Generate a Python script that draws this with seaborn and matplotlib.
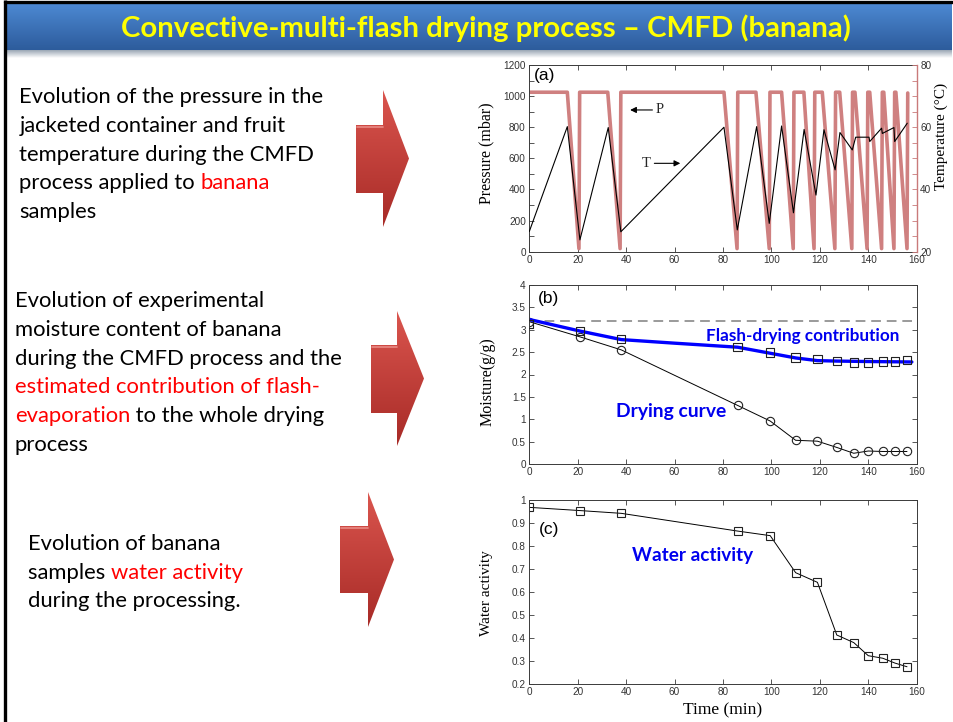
import numpy as np
import pandas as pd
import matplotlib
matplotlib.use("Agg")
import matplotlib.pyplot as plt
import seaborn as sns
from matplotlib.patches import Polygon
from matplotlib.ticker import MultipleLocator, FuncFormatter

# ---------------- data ----------------
p_time = [0, 15.7, 20.5, 20.8, 32.4, 37.5, 37.8, 80.4, 85.8, 86.1, 93.6, 99.1, 99.4,
          104.2, 109.0, 109.3, 113.4, 117.6, 117.9, 121.0, 126.2, 126.5, 128.2, 133.2,
          133.5, 134.5, 139.5, 139.8, 140.6, 145.5, 145.8, 146.4, 150.6, 150.9, 151.4,
          156.0, 156.3]
p_mbar = [1025, 1025, 20, 1025, 1025, 20, 1025, 1025, 20, 1025, 1025, 20, 1025,
          1025, 20, 1025, 1025, 20, 1025, 1025, 20, 1025, 1025, 20,
          1025, 1025, 20, 1025, 1025, 20, 1025, 1025, 20, 1025, 1025,
          20, 1020]

t_time = [0, 15.7, 20.9, 32.6, 37.8, 80.4, 85.9, 93.9, 99.1, 104.2, 109.1, 113.5,
          118.4, 121.7, 126.3, 128.3, 133.4, 134.8, 140.3, 140.6, 145.5, 145.8,
          150.6, 150.9, 156.1]
t_degc = [26.5, 60.2, 23.8, 59.9, 26.4, 60.0, 27.0, 60.2, 29.1, 60.4, 32.5, 59.3,
          38.2, 59.2, 46.3, 58.3, 52.7, 56.8, 56.8, 55.4, 59.7, 58.0,
          59.9, 55.4, 61.3]

sample_time = [0, 21, 38, 86, 99.5, 110, 119, 127, 134, 140, 146, 151, 156]
moisture_drying = [3.18, 2.84, 2.55, 1.31, 0.96, 0.53, 0.51, 0.37, 0.24, 0.29, 0.28, 0.28, 0.28]
moisture_flash = [3.13, 2.97, 2.79, 2.61, 2.49, 2.38, 2.34, 2.30, 2.27, 2.27, 2.29, 2.29, 2.32]
fit_time = [0, 21, 38, 60, 86, 99, 110, 119, 127, 140, 158]
fit_moisture = [3.23, 2.97, 2.78, 2.70, 2.61, 2.48, 2.37, 2.31, 2.30, 2.29, 2.28]
initial_moisture = 3.2
water_activity = [0.968, 0.954, 0.942, 0.865, 0.845, 0.684, 0.642, 0.413, 0.380,
                  0.323, 0.312, 0.291, 0.275]

title = "Convective-multi-flash drying process \u2013 CMFD (banana)"
block1 = [[("Evolution of the pressure in the", "k")],
          [("jacketed container and fruit", "k")],
          [("temperature during the CMFD", "k")],
          [("process applied to ", "k"), ("banana", "r")],
          [("samples", "k")]]
block2 = [[("Evolution of experimental", "k")],
          [("moisture content of banana", "k")],
          [("during the CMFD process and the", "k")],
          [("estimated contribution of flash-", "r")],
          [("evaporation", "r"), (" to the whole drying", "k")],
          [("process", "k")]]
block3 = [[("Evolution of banana", "k")],
          [("samples ", "k"), ("water activity", "r")],
          [("during the processing.", "k")]]

# ---------------- style ----------------
sns.set_theme(style="white")
plt.rcParams["font.family"] = ["Liberation Sans", "DejaVu Sans"]
W, H = 954, 722
fig = plt.figure(figsize=(W / 100, H / 100), dpi=100)
fig.patch.set_facecolor("white")
renderer = fig.canvas.get_renderer()

# background layer in pixel coordinates
bg = fig.add_axes([0, 0, 1, 1], zorder=-5)
bg.set_axis_off()

def grad(top, bot, n=64):
    top = np.array(matplotlib.colors.to_rgb(top))
    bot = np.array(matplotlib.colors.to_rgb(bot))
    f = np.linspace(0, 1, n)[:, None]
    return (top * (1 - f) + bot * f)[:, None, :]

# title banner
bg.imshow(grad("#4C88D2", "#2D5C9C"), extent=(7, 952, 50, 4), aspect="auto", zorder=1)
bg.imshow(grad("#9aa6b4", "#ffffff"), extent=(7, 952, 58, 50), aspect="auto", zorder=1)
# slide border
bg.plot([5, 5], [0, 722], color="black", lw=2.4, zorder=3, solid_capstyle="butt")
bg.plot([5, 952], [1.5, 1.5], color="black", lw=2.4, zorder=3)

# red block arrows
arrows = [(356, 383, 409, 125, 193, 90, 227),
          (371, 397, 424, 345, 413, 311, 446),
          (340, 368, 394, 526, 593, 492, 627)]
for x0, xh, xt, sy0, sy1, hy0, hy1 in arrows:
    verts = [(x0, sy0), (xh, sy0), (xh, hy0), (xt, (hy0 + hy1) / 2), (xh, hy1),
             (xh, sy1), (x0, sy1)]
    poly = Polygon(verts, closed=True, facecolor="none", edgecolor="none")
    bg.add_patch(poly)
    im = bg.imshow(grad("#DA554E", "#A82B27"), extent=(x0, xt, hy1, hy0),
                   aspect="auto", zorder=2)
    im.set_clip_path(poly)
    # light bevel on shaft top
    bg.plot([x0 + 1, xh], [sy0 + 2, sy0 + 2], color="#E98A84", lw=1.2, zorder=3)

bg.set_xlim(0, W)
bg.set_ylim(H, 0)

px = bg.transData

def fit_size(s, target, **kw):
    t = fig.text(0, 0, s, fontsize=10, **kw)
    w = t.get_window_extent(renderer=renderer).width
    t.remove()
    return 10 * target / w

# title
tsize = fit_size(title, 733, family="Lato", weight="bold")
fig.text(486, 37, title, transform=px, ha="center", va="baseline", fontsize=tsize,
         family="Lato", weight="bold", color="#FFFF00")

# body text
bsize = fit_size("Evolution of the pressure in the", 305, family="Lato")
colors = {"k": "black", "r": "#FF0000"}

def write_block(x, y0, lines, step=28.7):
    for i, segs in enumerate(lines):
        y = y0 + i * step
        prev = None
        for s, c in segs:
            if prev is None:
                prev = fig.text(x, y, s, transform=px, ha="left", va="baseline",
                                fontsize=bsize, family="Lato", color=colors[c])
            else:
                prev = fig.text(0, 0, s, ha="left", va="baseline", fontsize=bsize,
                                family="Lato", color=colors[c],
                                transform=matplotlib.transforms.offset_copy(
                                    prev.get_transform(), fig=fig, x=0, y=0))
                # position right after previous fragment
                bb = fig.texts[-2].get_window_extent(renderer=renderer)
                prev.set_transform(matplotlib.transforms.IdentityTransform())
                prev.set_position((bb.x1, H - y))

write_block(19.3, 103.3, block1)
write_block(15, 307.3, block2)
write_block(28.3, 550, block3)

# ---------------- plot axes ----------------
def pix_axes(x0, y0, x1, y1):
    return fig.add_axes([x0 / W, 1 - y1 / H, (x1 - x0) / W, (y1 - y0) / H])

tick_col = "#333333"
spine_col = "#3a3a3a"
serif = ["Liberation Serif", "DejaVu Serif"]

def style(ax, right=True):
    ax.set_facecolor("white")
    for sp in ax.spines.values():
        sp.set_color(spine_col)
        sp.set_linewidth(0.7)
        sp.set_visible(True)
    ax.tick_params(which="both", direction="in", length=3.5, width=0.6, colors=spine_col,
                   labelcolor=tick_col, labelsize=7.2, top=True, right=right,
                   bottom=True, left=True, pad=2.5)
    ax.grid(False)

fmt = FuncFormatter(lambda v, p: f"{v:g}")

# (a) pressure / temperature
axa = pix_axes(529.3, 65, 916.7, 251.7)
style(axa, right=False)
p_df = pd.DataFrame({"time": p_time, "pressure": p_mbar})
sns.lineplot(data=p_df, x="time", y="pressure", ax=axa, color="#CF8080", lw=2.6,
             sort=False, estimator=None)
axa.set_xlim(0, 160)
axa.set_ylim(0, 1200)
axa.xaxis.set_major_locator(MultipleLocator(20))
axa.yaxis.set_major_locator(MultipleLocator(200))
axa.yaxis.set_minor_locator(MultipleLocator(100))
axa.set_xlabel("")
axa.set_ylabel("Pressure (mbar)", family=serif, fontsize=11.5, color="black", va="center")
axa.yaxis.set_label_coords(-0.11, 0.53)
axa.text(0.012, 0.985, "(a)", transform=axa.transAxes, ha="left", va="top",
         fontsize=12.5, color="black")

axt = axa.twinx()
t_df = pd.DataFrame({"time": t_time, "temperature": t_degc})
sns.lineplot(data=t_df, x="time", y="temperature", ax=axt, color="black", lw=0.8,
             sort=False, estimator=None)
axt.set_ylim(20, 80)
axt.set_xlim(0, 160)
axt.yaxis.set_major_locator(MultipleLocator(20))
axt.yaxis.set_minor_locator(MultipleLocator(5))
for sp in axt.spines.values():
    sp.set_visible(False)
axt.spines["right"].set_visible(True)
axt.spines["right"].set_color("#C97A7A")
axt.spines["right"].set_linewidth(1.0)
axt.tick_params(which="both", direction="in", length=3.5, width=0.6, colors="#C97A7A",
                labelcolor=tick_col, labelsize=7.2, right=True, left=False, pad=2.5)
axt.grid(False)
axt.set_xlabel("")
axt.set_ylabel("Temperature (\u00b0C)", family=serif, fontsize=11, color="black",
               va="center", rotation=90)
axt.yaxis.set_label_coords(1.064, 0.616)

axa.annotate("", xy=(40.5, 911), xytext=(52, 911),
             arrowprops=dict(arrowstyle="-|>", color="black", lw=0.8, mutation_scale=9))
axa.text(52.3, 911, "P", family=serif, fontsize=10.5, va="center", ha="left")
axa.annotate("", xy=(63.5, 568), xytext=(50.5, 568),
             arrowprops=dict(arrowstyle="-|>", color="black", lw=0.8, mutation_scale=9))
axa.text(50.3, 568, "T", family=serif, fontsize=10.5, va="center", ha="right")

# (b) moisture
axb = pix_axes(529.3, 285, 916.7, 464)
style(axb)
axb.plot([0, 158], [initial_moisture, initial_moisture], ls=(0, (5, 3)),
         color="#9a9a9a", lw=1.4)
m_df = pd.DataFrame({"time": sample_time, "drying": moisture_drying,
                     "flash": moisture_flash})
fit_df = pd.DataFrame({"time": fit_time, "fit": fit_moisture})
sns.lineplot(data=m_df, x="time", y="drying", ax=axb, color="black", lw=0.7,
             marker="o", markersize=6, markerfacecolor="none", markeredgecolor="#222",
             markeredgewidth=0.8, estimator=None)
sns.lineplot(data=fit_df, x="time", y="fit", ax=axb, color="#0000FF", lw=2.4,
             estimator=None)
sns.scatterplot(data=m_df, x="time", y="flash", ax=axb, marker="s", s=36,
                facecolor="none", edgecolor="#222", linewidth=0.8, zorder=4)
axb.set_xlim(0, 160)
axb.set_ylim(0, 4)
axb.xaxis.set_major_locator(MultipleLocator(20))
axb.yaxis.set_major_locator(MultipleLocator(0.5))
axb.yaxis.set_major_formatter(fmt)
axb.set_xlabel("")
axb.set_ylabel("Moisture(g/g)", family=serif, fontsize=11.5, color="black", va="center")
axb.yaxis.set_label_coords(-0.107, 0.46)
axb.text(0.022, 0.965, "(b)", transform=axb.transAxes, ha="left", va="top",
         fontsize=12.5, color="black")
axb.text(113, 2.86, "Flash-drying contribution", ha="center", va="center",
         family="Lato", weight="bold", color="#0000EE",
         fontsize=fit_size("Flash-drying contribution", 193, family="Lato", weight="bold"))
axb.text(58.7, 1.17, "Drying curve", ha="center", va="center",
         family="Lato", weight="bold", color="#0000EE",
         fontsize=fit_size("Drying curve", 111, family="Lato", weight="bold"))

# (c) water activity
axc = pix_axes(529.3, 500, 916.7, 684)
style(axc)
w_df = pd.DataFrame({"time": sample_time, "aw": water_activity})
sns.lineplot(data=w_df, x="time", y="aw", ax=axc, color="black", lw=0.7,
             marker="s", markersize=6, markerfacecolor="none", markeredgecolor="#222",
             markeredgewidth=0.8, estimator=None)
axc.set_xlim(0, 160)
axc.set_ylim(0.2, 1.0)
axc.xaxis.set_major_locator(MultipleLocator(20))
axc.yaxis.set_major_locator(MultipleLocator(0.1))
axc.yaxis.set_major_formatter(fmt)
axc.set_xlabel("Time (min)", family=serif, fontsize=12.5, color="black", va="center")
axc.xaxis.set_label_coords(0.5, -0.141)
axc.set_ylabel("Water activity", family=serif, fontsize=11, color="black", va="center")
axc.yaxis.set_label_coords(-0.11, 0.495)
axc.text(0.025, 0.88, "(c)", transform=axc.transAxes, ha="left", va="top",
         fontsize=12.5, color="black")
axc.text(67.4, 0.758, "Water activity", ha="center", va="center",
         family="Lato", weight="bold", color="#0000EE",
         fontsize=fit_size("Water activity", 121, family="Lato", weight="bold"))

fig.savefig("out.png", dpi=100, facecolor="white")
